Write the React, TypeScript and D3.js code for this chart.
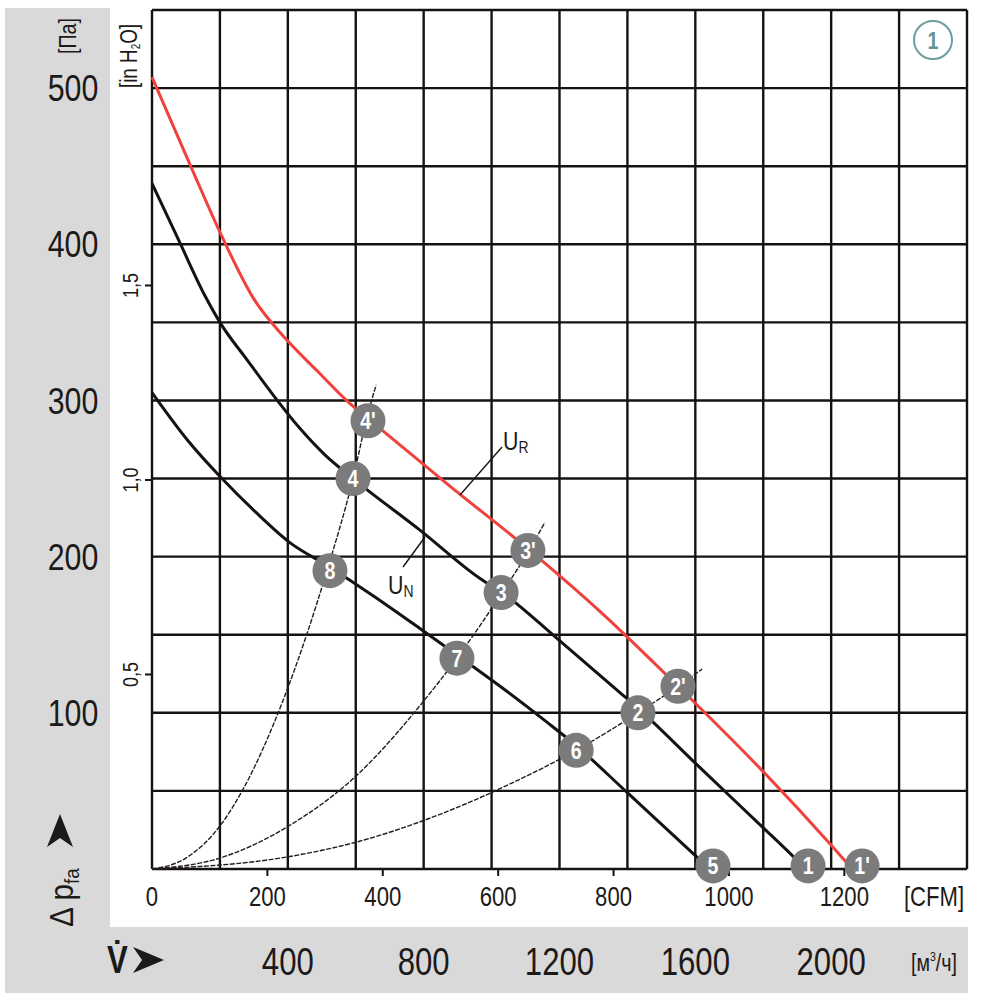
import React from 'react';
import * as d3 from 'd3';

// flow in m³/h, pressure in Pa
const redCurve: [number, number][] = [
  [0, 507], [112, 451], [206, 405], [297, 366], [400, 338], [486, 319], [583, 298],
  [633, 289], [878, 245], [1107, 205], [1319, 165], [1549, 117], [1797, 63],
  [1997, 16], [2062, 0],
];
const nominalCurve: [number, number][] = [
  [0, 439], [82, 401], [156, 367], [200, 350], [280, 326], [362, 302], [436, 282],
  [510, 265], [592, 250], [789, 217], [966, 186], [1031, 177], [1196, 147],
  [1378, 113], [1431, 103], [1599, 68], [1797, 27], [1879, 10], [1926, 0],
];
const lowCurve: [number, number][] = [
  [0, 305], [103, 275], [206, 250], [303, 229], [406, 209], [518, 194], [651, 175],
  [789, 154], [898, 137], [1025, 117], [1163, 94], [1249, 79], [1399, 49],
  [1593, 10], [1643, 0],
];
const systemA: [number, number][] = [
  [0, 0], [100, 7], [205, 29], [268, 51], [386, 108], [518, 193], [592, 250], [633, 289], [660, 310],
];
const systemB: [number, number][] = [
  [0, 0], [200, 7], [406, 28], [598, 59], [798, 107], [898, 135], [1031, 177], [1113, 205], [1157, 222],
];
const systemC: [number, number][] = [
  [0, 0], [406, 8], [598, 17], [848, 35], [1050, 54], [1249, 76], [1431, 100], [1549, 117], [1620, 128],
];

const markers = [
  { label: '1', q: 1932, p: 2 },
  { label: "1'", q: 2091, p: 2 },
  { label: '5', q: 1652, p: 2 },
  { label: '2', q: 1431, p: 100 },
  { label: "2'", q: 1549, p: 117 },
  { label: '3', q: 1028, p: 177 },
  { label: "3'", q: 1107, p: 204 },
  { label: '4', q: 592, p: 250 },
  { label: "4'", q: 636, p: 287 },
  { label: '6', q: 1249, p: 76 },
  { label: '7', q: 898, p: 135 },
  { label: '8', q: 524, p: 191 },
];

const paTicks = [100, 200, 300, 400, 500];
const inchTicks = [0.5, 1.0, 1.5];
const cfmTicks = [0, 200, 400, 600, 800, 1000, 1200];
const m3hTicks = [400, 800, 1200, 1600, 2000];

const CFM_TO_M3H = 1.699;
const INCH_TO_PA = 249.09;

const font = '"Liberation Sans Narrow", "Liberation Sans", Arial, sans-serif';
const ink = '#1c1a18';
const SQ = 0.82; // horizontal squeeze to imitate the condensed face

// text squeezed along its own direction
const Txt: React.FC<{
  x: number; y: number; rot?: number; sx?: number; size: number;
  anchor?: string; baseline?: string; weight?: string; fill?: string; children: React.ReactNode;
}> = ({ x, y, rot = 0, sx = SQ, size, anchor = 'middle', baseline, weight, fill = ink, children }) => (
  <text
    transform={`translate(${x},${y}) rotate(${rot}) scale(${sx},1)`}
    textAnchor={anchor}
    dominantBaseline={baseline}
    fontFamily={font}
    fontSize={size}
    fontWeight={weight}
    fill={fill}
  >
    {children}
  </text>
);

const App: React.FC = () => {
  const x = d3.scaleLinear().domain([0, 2400]).range([152, 967]);
  const y = d3.scaleLinear().domain([0, 550]).range([869, 10]);

  const line = d3
    .line<[number, number]>()
    .x(d => x(d[0]))
    .y(d => y(d[1]))
    .curve(d3.curveMonotoneX);

  const xGrid = d3.range(0, 2401, 200);
  const yGrid = d3.range(0, 551, 50);

  return (
    <svg
      width={1000}
      height={1000}
      style={{ position: 'absolute', left: 0, top: 0, background: '#fff' }}
    >
      {/* grey label bands */}
      <rect x={5} y={8} width={105} height={985} fill="#d9d9d9" />
      <rect x={5} y={927} width={963} height={66} fill="#d9d9d9" />

      {/* grid */}
      <g stroke="#161210" strokeWidth={2.4}>
        {xGrid.map(v => (
          <line key={'x' + v} x1={x(v)} x2={x(v)} y1={y(550)} y2={y(0)} />
        ))}
        {yGrid.map(v => (
          <line key={'y' + v} x1={x(0)} x2={x(2400)} y1={y(v)} y2={y(v)} />
        ))}
      </g>

      {/* secondary unit ticks */}
      <g stroke="#161210" strokeWidth={2}>
        {cfmTicks.slice(1).map(c => (
          <line key={c} x1={x(c * CFM_TO_M3H)} x2={x(c * CFM_TO_M3H)} y1={y(0)} y2={y(0) + 7} />
        ))}
        {inchTicks.map(v => (
          <line key={v} x1={x(0) - 7} x2={x(0)} y1={y(v * INCH_TO_PA)} y2={y(v * INCH_TO_PA)} />
        ))}
      </g>

      {/* system curves */}
      <g fill="none" stroke="#231e1c" strokeWidth={1.4} strokeDasharray="5 1.5">
        {[systemA, systemB, systemC].map((s, i) => (
          <path key={i} d={line(s) || ''} />
        ))}
      </g>

      {/* fan curves */}
      <path d={line(lowCurve) || ''} fill="none" stroke="#161210" strokeWidth={3} />
      <path d={line(nominalCurve) || ''} fill="none" stroke="#161210" strokeWidth={3} />
      <path d={line(redCurve) || ''} fill="none" stroke="#f0413c" strokeWidth={3} />

      {/* leaders */}
      <g stroke="#161210" strokeWidth={1.4}>
        <line x1={460} y1={495} x2={502} y2={447} />
        <line x1={403} y1={567} x2={425} y2={537} />
      </g>
      <Txt x={503} y={450} size={26} anchor="start">
        U<tspan fontSize={17} dy={3}>R</tspan>
      </Txt>
      <Txt x={388} y={594} size={26} anchor="start">
        U<tspan fontSize={17} dy={3}>N</tspan>
      </Txt>

      {/* operating points */}
      {markers.map(m => (
        <g key={m.label}>
          <circle cx={x(m.q)} cy={y(m.p)} r={17.5} fill="#7b7b7b" />
          <Txt x={x(m.q)} y={y(m.p) + 1} size={23} sx={0.85} baseline="central" weight="bold" fill="#fff">
            {m.label}
          </Txt>
        </g>
      ))}

      {/* circled 1 */}
      <circle cx={933} cy={40} r={19} fill="none" stroke="#6a9fa0" strokeWidth={2} />
      <Txt x={933} y={41} size={24} baseline="central" weight="bold" fill="#5f9596">1</Txt>

      {/* Pa axis labels */}
      {paTicks.map(v => (
        <Txt key={v} x={73} y={y(v)} size={37} baseline="central">{v}</Txt>
      ))}
      <Txt x={76} y={36} rot={-90} size={24}>[Па]</Txt>

      {/* inch H2O labels */}
      {inchTicks.map(v => (
        <Txt key={v} x={138} y={y(v * INCH_TO_PA)} rot={-90} size={22}>
          {d3.format('.1f')(v).replace('.', ',')}
        </Txt>
      ))}
      <Txt x={137} y={56} rot={-90} size={23}>
        [in H<tspan fontSize={12} dy={3}>2</tspan><tspan dy={-3}>O]</tspan>
      </Txt>

      {/* CFM labels */}
      {cfmTicks.map(c => (
        <Txt key={c} x={x(c * CFM_TO_M3H)} y={906} size={27}>{c}</Txt>
      ))}
      <Txt x={934} y={906} size={27}>[CFM]</Txt>

      {/* m3/h labels */}
      {m3hTicks.map(v => (
        <Txt key={v} x={x(v)} y={962} size={38} baseline="central">{v}</Txt>
      ))}
      <Txt x={934} y={971} size={24}>
        [м<tspan fontSize={13} dy={-10}>3</tspan><tspan dy={10}>/ч]</tspan>
      </Txt>

      {/* Δp axis title */}
      <Txt x={73} y={927} rot={-90} size={33} sx={0.9} anchor="start">
        Δ p<tspan fontSize={21} dy={6}>fa</tspan>
      </Txt>
      <path d="M60,814 L73,847 L60,838 L47,847 Z" fill={ink} />

      {/* V̇ title */}
      <Txt x={107} y={973} size={38} anchor="start" weight="bold">V̇</Txt>
      <path d="M164,960 L133,947 L142,960 L133,973 Z" fill={ink} />
    </svg>
  );
};

export default App;
